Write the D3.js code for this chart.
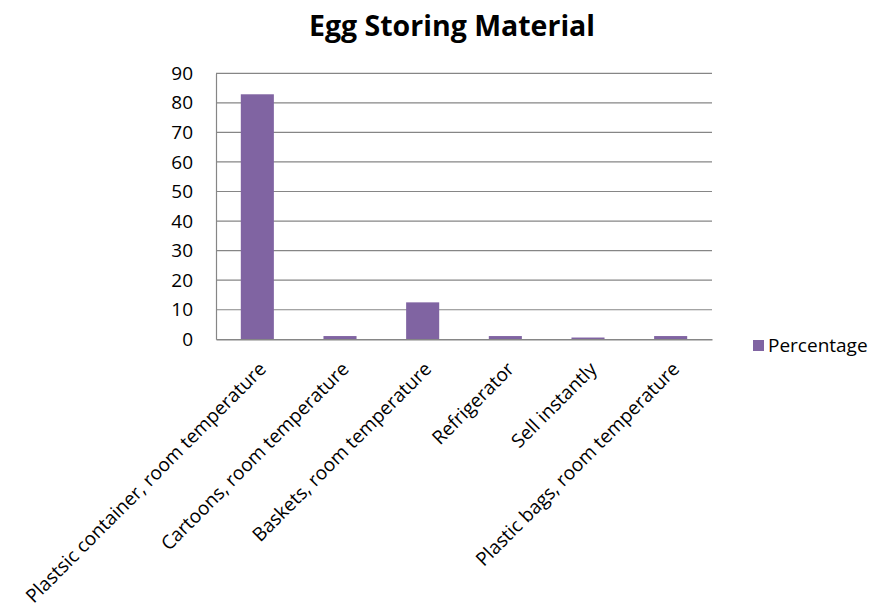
<!DOCTYPE html>
<html><head><meta charset="utf-8">
<script src="https://cdn.jsdelivr.net/npm/d3@7"></script>
<style>body{margin:0;background:#fff}svg{display:block}</style>
</head><body>
<svg id="c" width="879" height="613"></svg>
<script>
const categories = ["Plastsic container, room temperature","Cartoons, room temperature","Baskets, room temperature","Refrigerator","Sell instantly","Plastic bags, room temperature"];
const values = [82.9, 1.1, 12.5, 1.1, 0.6, 1.1];
const yTicks = [0,10,20,30,40,50,60,70,80,90];
const seriesName = "Percentage";
const title = "Egg Storing Material";

(function(){
const svg = d3.select("#c");
const font = "'Open Sans', sans-serif";
const pl = 216, pr = 712, pt = 73.3, pb = 339.3;
const x = d3.scaleBand().domain(categories).range([pl, pr]).padding(0);
const y = d3.scaleLinear().domain([0, 90]).range([pb, pt]);

svg.append("text").attr("x", 452).attr("y", 36).attr("text-anchor","middle")
  .attr("font-family", font).attr("font-weight","bold").attr("font-size", 28.5).attr("fill","#000").text(title);

svg.append("g").selectAll("line").data(yTicks.filter(d=>d>0)).join("line")
  .attr("x1", pl).attr("x2", pr).attr("y1", d=>y(d)).attr("y2", d=>y(d))
  .attr("stroke","#868686").attr("stroke-width",1.2);

const ya = svg.append("g").attr("transform",`translate(${pl},0)`)
  .call(d3.axisLeft(y).tickValues(yTicks).tickSize(0).tickPadding(23));
ya.select(".domain").attr("stroke","#868686").attr("stroke-width",1.2);
ya.selectAll(".tick line").remove();
ya.selectAll(".tick text").attr("font-family",font).attr("font-size",19).attr("fill","#000");

const bw = x.bandwidth()*0.4;
svg.append("g").selectAll("rect").data(values).join("rect")
  .attr("x",(d,i)=>x(categories[i])+x.bandwidth()/2-bw/2)
  .attr("width",bw)
  .attr("y",d=>y(d)).attr("height",d=>pb-y(d))
  .attr("fill","#8064A2");

const xa = svg.append("g").attr("transform",`translate(0,${pb})`)
  .call(d3.axisBottom(x).tickSize(0).tickPadding(0));
xa.select(".domain").attr("stroke","#868686").attr("stroke-width",1.5);
xa.selectAll(".tick text")
  .attr("font-family",font).attr("font-size",19).attr("fill","#000")
  .attr("text-anchor","end").attr("dy",0)
  .attr("transform","translate(10,31) rotate(-45)");

const lg = svg.append("g");
lg.append("rect").attr("x",753).attr("y",340).attr("width",11).attr("height",11).attr("fill","#8064A2");
lg.append("text").attr("x",768).attr("y",352).attr("font-family",font).attr("font-size",19).attr("fill","#000").text(seriesName);
})();
</script>
</body></html>
